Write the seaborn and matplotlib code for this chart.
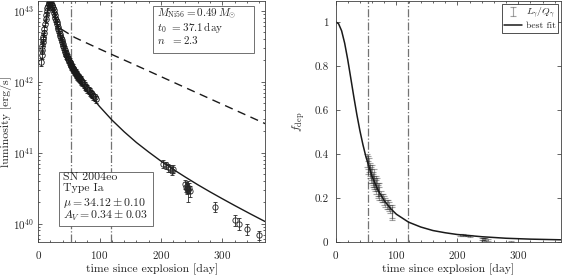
import numpy as np
import pandas as pd
import seaborn as sns
import matplotlib.pyplot as plt
from matplotlib.patches import Rectangle
from matplotlib.ticker import MultipleLocator, LogLocator, NullFormatter, FuncFormatter

# bolometric light curve of SN 2004eo (days since explosion, erg/s)
lc_days = [5, 5.5, 6, 6.5, 7, 7.5, 8, 9, 10, 11, 12, 13, 14, 15, 16, 17, 18, 19,
           20, 21, 22, 23, 24, 25, 26, 27, 28, 29, 30, 31, 32, 33, 34, 35, 36, 37,
           38, 39, 40, 41, 42, 43, 44, 45, 46, 47, 48, 49, 50, 51, 52, 53, 54, 55,
           56, 57, 58, 59, 60, 61, 62, 63, 64, 65, 66, 67, 68, 69, 70, 72, 74, 76,
           78, 80, 82, 84, 86, 88, 90, 92, 94]
lc_lum = [1.9e42, 2.4e42, 2.8e42, 3.2e42, 3.6e42, 4.0e42, 4.3e42, 4.8e42, 5.6e42,
          6.6e42, 7.6e42, 8.7e42, 9.8e42, 1.08e43, 1.17e43, 1.24e43, 1.29e43, 1.31e43,
          1.30e43, 1.27e43, 1.22e43, 1.16e43, 1.09e43, 1.01e43, 9.4e42, 8.7e42, 8.0e42,
          7.4e42, 6.9e42, 6.4e42, 5.9e42, 5.5e42, 5.1e42, 4.7e42, 4.4e42, 4.1e42,
          3.85e42, 3.6e42, 3.35e42, 3.15e42, 2.95e42, 2.8e42, 2.65e42, 2.5e42, 2.38e42,
          2.27e42, 2.16e42, 2.06e42, 1.98e42, 1.9e42, 1.82e42, 1.74e42, 1.68e42,
          1.62e42, 1.56e42, 1.5e42, 1.46e42, 1.41e42, 1.36e42, 1.33e42, 1.29e42,
          1.25e42, 1.22e42, 1.18e42, 1.16e42, 1.12e42, 1.09e42, 1.06e42, 1.03e42,
          9.8e41, 9.3e41, 8.8e41, 8.4e41, 8.0e41, 7.6e41, 7.2e41, 6.9e41, 6.6e41,
          6.2e41, 6.0e41, 5.7e41]

# nebular phase points
late_days = [204, 208, 212, 215, 218, 220, 240, 241, 242, 243, 244, 245, 248,
             288, 320, 328, 340, 359]
late_lum = [7.0e40, 6.6e40, 6.2e40, 6.0e40, 5.6e40, 5.9e40, 3.6e40, 3.3e40, 3.2e40,
            3.1e40, 3.0e40, 3.2e40, 2.9e40, 1.74e40, 1.12e40, 1.0e40, 8.3e39, 6.8e39]
late_err = [0.9e40, 0.8e40, 0.8e40, 0.7e40, 0.7e40, 0.7e40, 0.5e40, 0.5e40, 0.5e40,
            0.5e40, 1.0e40, 0.5e40, 0.5e40, 0.3e40, 0.2e40, 0.2e40, 0.15e40, 0.1e40]

# radioactive energy input (dashed) and best fit (solid)
q_days = [38, 60, 100, 150, 200, 250, 300, 370]
q_lum = [5.47e42, 4.18e42, 2.89e42, 1.85e42, 1.18e42, 7.52e41, 4.80e41, 2.56e41]
fit_days = [60, 70, 80, 90, 100, 120, 140, 160, 180, 200, 220, 240, 260, 280,
            300, 320, 345, 370]
fit_lum = [1.34e42, 9.83e41, 7.40e41, 5.69e41, 4.47e41, 2.89e41, 1.97e41, 1.39e41,
           1.02e41, 7.6e40, 5.81e40, 4.51e40, 3.53e40, 2.80e40, 2.24e40, 1.80e40,
           1.38e40, 1.065e40]

# gamma-ray deposition fraction
fdep_days = [52, 53, 54, 55, 56, 57, 58, 59, 60, 61, 62, 63, 64, 65, 66, 67, 68,
             69, 70, 71, 72, 74, 76, 78, 80, 82, 84, 86, 88, 90, 92, 93,
             205, 210, 214, 218, 221, 240, 242, 244, 246, 250, 288]
fdep_val = [0.37, 0.36, 0.34, 0.35, 0.33, 0.32, 0.31, 0.30, 0.31, 0.29, 0.28, 0.29,
            0.27, 0.26, 0.27, 0.25, 0.26, 0.24, 0.23, 0.24, 0.22, 0.21, 0.20, 0.20,
            0.19, 0.18, 0.17, 0.17, 0.16, 0.15, 0.14, 0.13,
            0.033, 0.031, 0.030, 0.029, 0.028, 0.013, 0.012, 0.011, 0.012, 0.010, 0.003]
fdep_err = [0.03, 0.03, 0.03, 0.03, 0.03, 0.03, 0.03, 0.03, 0.04, 0.03, 0.03, 0.04,
            0.03, 0.03, 0.03, 0.03, 0.03, 0.03, 0.03, 0.03, 0.03, 0.02, 0.02, 0.02,
            0.02, 0.02, 0.02, 0.02, 0.02, 0.02, 0.03, 0.03,
            0.004, 0.004, 0.004, 0.004, 0.004, 0.004, 0.004, 0.006, 0.004, 0.004, 0.003]
fit_f_days = [0, 5, 10, 15, 20, 25, 30, 35, 40, 45, 50, 60, 70, 80, 90, 100, 120,
              140, 160, 180, 200, 240, 280, 320, 370]
fit_f = [1.0, 0.991, 0.959, 0.903, 0.829, 0.745, 0.660, 0.579, 0.506, 0.442, 0.386,
         0.298, 0.234, 0.188, 0.153, 0.126, 0.090, 0.068, 0.052, 0.042, 0.034,
         0.024, 0.017, 0.013, 0.010]

t_marks = [53, 119]

fit_lines = ['$M_{\\rm Ni56} = 0.49\\,M_{\\odot}$',
             '$t_0\\;\\,= 37.1\\,{\\rm day}$',
             '$n\\;\\;\\,= 2.3$']
sn_lines = ['SN 2004eo', 'Type Ia', '$\\mu = 34.12 \\pm 0.10$',
            '$A_V = 0.34 \\pm 0.03$']

sns.set_theme(style='ticks')
plt.rcParams.update({
    'font.family': 'serif',
    'font.serif': ['cmr10'],
    'mathtext.fontset': 'cm',
    'axes.formatter.use_mathtext': True,
    'axes.linewidth': 0.6,
    'axes.edgecolor': '0.25',
    'xtick.direction': 'in', 'ytick.direction': 'in',
    'xtick.top': True, 'ytick.right': True,
    'xtick.major.size': 3, 'ytick.major.size': 3,
    'xtick.minor.size': 1.6, 'ytick.minor.size': 1.6,
    'xtick.major.width': 0.5, 'ytick.major.width': 0.5,
    'xtick.minor.width': 0.5, 'ytick.minor.width': 0.5,
    'xtick.major.pad': 5, 'ytick.major.pad': 3,
    'xtick.labelsize': 8, 'ytick.labelsize': 8,
    'axes.labelsize': 8.5,
})


def text_box(ax, x0, y0, x1, y1, tx, ys, lines, size=8.5):
    # boxed annotation with fixed outline (axes coordinates)
    ax.add_patch(Rectangle((x0, y0), x1 - x0, y1 - y0, transform=ax.transAxes,
                           fc='white', ec='0.35', lw=0.6, zorder=5))
    for y, s in zip(ys, lines):
        ax.text(tx, y, s, transform=ax.transAxes, ha='left', va='center',
                fontsize=size, zorder=6)


fig = plt.figure(figsize=(5.62, 2.75), dpi=100)
ax1 = fig.add_axes([0.068, 0.12, 0.404, 0.877])
ax2 = fig.add_axes([0.597, 0.12, 0.401, 0.877])

# ---- left panel: light curve
for t in t_marks:
    ax1.axvline(t, color='0.45', ls='-.', lw=0.9)
lc = pd.DataFrame({'t': lc_days, 'L': lc_lum})
ax1.errorbar(lc['t'], lc['L'], yerr=0.12 * lc['L'], fmt='o', ms=4, mfc='none',
             mec='k', mew=0.6, ecolor='k', elinewidth=0.6, capsize=1.5, capthick=0.6)
ax1.errorbar(late_days, late_lum, yerr=late_err, fmt='o', ms=3.8, mfc='none',
             mec='0.15', mew=0.6, ecolor='0.15', elinewidth=0.6, capsize=1.5,
             capthick=0.6)
sns.lineplot(x=q_days, y=q_lum, ax=ax1, color='k', lw=1.0, dashes=[(6, 4)],
             style=['q'] * len(q_days), legend=False)
sns.lineplot(x=fit_days, y=fit_lum, ax=ax1, color='k', lw=1.0)
ax1.set_yscale('log')
ax1.set_xlim(0, 370)
ax1.set_ylim(5.5e39, 1.38e43)
ax1.xaxis.set_major_locator(MultipleLocator(100))
ax1.xaxis.set_minor_locator(MultipleLocator(20))
ax1.yaxis.set_major_locator(LogLocator(base=10, numticks=10))
ax1.yaxis.set_minor_locator(LogLocator(base=10, subs=np.arange(2, 10), numticks=20))
ax1.yaxis.set_minor_formatter(NullFormatter())
ax1.set_xlabel('time since explosion [day]', labelpad=2)
ax1.set_ylabel('luminosity [erg/s]', labelpad=1)

text_box(ax1, 0.507, 0.784, 0.952, 0.979, 0.524, [0.948, 0.891, 0.836], fit_lines,
         size=8)
text_box(ax1, 0.093, 0.068, 0.507, 0.292, 0.11, [0.267, 0.223, 0.162, 0.106],
         sn_lines)

# ---- right panel: deposition fraction
for t in t_marks:
    ax2.axvline(t, color='0.45', ls='-.', lw=0.9)
eb = ax2.errorbar(fdep_days, fdep_val, yerr=fdep_err, fmt='none', ecolor='k',
                  alpha=0.4, elinewidth=0.8, capsize=2, capthick=0.8,
                  label='$L_{\\gamma}/Q_{\\gamma}$')
sns.lineplot(x=fit_f_days, y=fit_f, ax=ax2, color='k', lw=1.1, label='best fit')
ax2.set_xlim(0, 370)
ax2.set_ylim(0, 1.095)
ax2.xaxis.set_major_locator(MultipleLocator(100))
ax2.xaxis.set_minor_locator(MultipleLocator(20))
ax2.yaxis.set_major_locator(MultipleLocator(0.2))
ax2.yaxis.set_major_formatter(FuncFormatter(lambda v, p: '%g' % round(v, 2)))
ax2.tick_params(axis='y', pad=5)
ax2.set_xlabel('time since explosion [day]', labelpad=2)
ax2.set_ylabel('$f_{\\rm dep}$', labelpad=5)

handles, labels = ax2.get_legend_handles_labels()
order = [labels.index('$L_{\\gamma}/Q_{\\gamma}$'), labels.index('best fit')]
leg = ax2.legend([handles[i] for i in order], [labels[i] for i in order],
                 loc='upper right', fontsize=7, frameon=True, fancybox=False,
                 edgecolor='0.2', framealpha=1, handlelength=1.8,
                 borderpad=0.25, labelspacing=0.15, handletextpad=0.4,
                 borderaxespad=0.3)
leg.get_frame().set_linewidth(0.6)

fig.savefig('out.png', dpi=100)
